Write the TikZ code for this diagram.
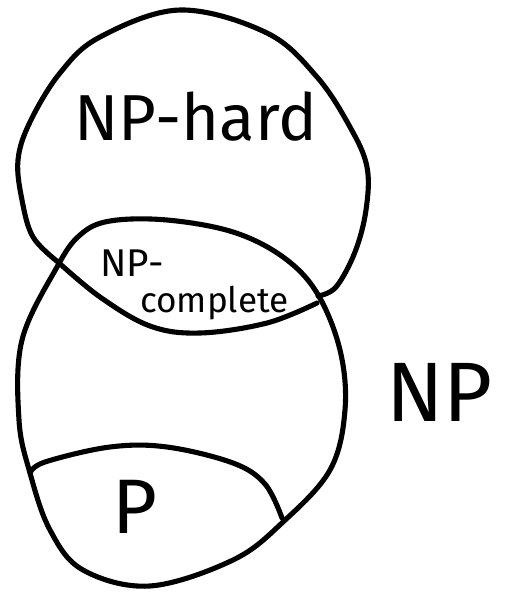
\documentclass[tikz,border=0pt]{standalone}
\usepackage{fontspec}
\setmainfont{Fira Sans}

\tikzset{
    stroke/.style={line width=2.9pt, line cap=round, line join=round},
    label/.style={inner sep=0pt, anchor=base west},
}

\begin{document}
\begin{tikzpicture}[x=0.02cm, y=-0.02cm]
    \useasboundingbox (0, 0) rectangle (507, 592);

    % NP-hard: outer rim, then the lower edge of the lens
    \draw[stroke] plot[smooth, tension=0.6] coordinates {
        (58,262) (33,237) (22,200) (18,160) (30,122) (60,73) (100,37)
        (180,10) (267,33) (317,77) (350,127) (367,167) (366,210)
        (355,252) (336,287) (318,296)};
    \draw[stroke] plot[smooth, tension=0.6] coordinates {
        (58,262) (100,297) (150,326) (200,333) (267,323) (317,303)};

    % NP
    \draw[stroke] plot[smooth cycle, tension=0.6] coordinates {
        (57,267) (80,235) (110,221) (167,220) (233,232) (283,257)
        (317,293) (340,350) (345,410) (330,470) (283,522) (233,560)
        (150,586) (83,570) (50,530) (30,473) (19,420) (22,340)};

    % P
    \draw[stroke] plot[smooth, tension=0.6] coordinates {
        (30,473) (45,462) (110,447) (167,447) (233,463) (265,484) (282,518)};

    \node[label, font=\fontsize{37}{44}\selectfont] (nphard) at (74,140) {NP-hard};
    \node[label, font=\fontsize{22}{26}\selectfont] (npc1) at (100,276) {NP-};
    \node[label, font=\fontsize{20}{24}\selectfont] (npc2) at (140,312) {complete};
    \node[label, font=\fontsize{48}{54}\selectfont] (np) at (386,421) {NP};
    \node[label, font=\fontsize{44}{50}\selectfont] (p) at (112,533) {P};
\end{tikzpicture}
\end{document}
